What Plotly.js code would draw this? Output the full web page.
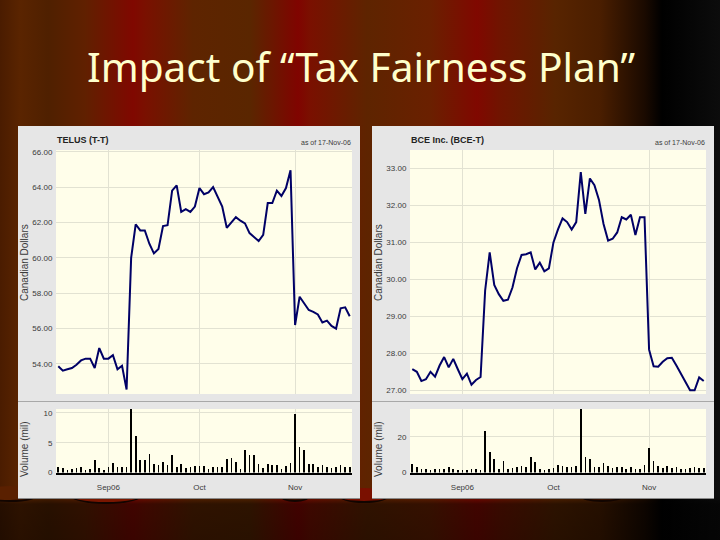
<!DOCTYPE html>
<html>
<head>
<meta charset="utf-8">
<script src="https://cdn.plot.ly/plotly-3.0.1.min.js"></script>
<style>
html,body{margin:0;padding:0;width:720px;height:540px;overflow:hidden;background:#000}
#bg{position:absolute;left:0;top:0;width:720px;height:540px;
background:
 linear-gradient(to bottom,rgba(0,0,0,0) 0,rgba(0,0,0,0) 496px,rgba(0,0,0,.5) 504px,rgba(0,0,0,.55) 540px),
 linear-gradient(to right,#4a1c00 0,#5a2400 20px,#4f2000 48px,#602000 85px,#800800 133px,#7a1000 145px,#5e2400 193px,#5a2600 250px,#800400 298px,#7a1000 310px,#5e2400 367px,#6a2000 430px,#800800 477px,#701400 500px,#582400 555px,#4a1e00 600px,#1a0a00 645px,#000 662px,#0c0c0c 720px)}
.arc{position:absolute;border-radius:50%;border-bottom:2px solid #120500}
.panel{position:absolute;top:126px;height:372px;width:342px;background:#e6e6e6;box-shadow:0 1px 0 #8a8a8a}
#chart{position:absolute;left:0;top:0;width:720px;height:540px}
</style>
</head>
<body>
<div id="bg"></div>
<div class="arc" style="left:-20px;top:486px;width:60px;height:14px;background:#5a2000"></div>
<div class="arc" style="left:68px;top:484px;width:76px;height:18px;background:#7a1600"></div>
<div class="arc" style="left:280px;top:490px;width:30px;height:10px;background:#3a1000"></div>
<div class="arc" style="left:338px;top:488px;width:52px;height:13px;background:#7a1000"></div>
<div class="arc" style="left:580px;top:490px;width:44px;height:10px;background:#3a1200"></div>
<div class="panel" style="left:18px"></div>
<div class="panel" style="left:372px"></div>
<div id="chart"></div>
<script>
const chartTitle = 'Impact of “Tax Fairness Plan”';
const telusName = 'TELUS (T-T)';
const bceName = 'BCE Inc. (BCE-T)';
const asOf = 'as of 17-Nov-06';
const priceTitle = 'Canadian Dollars';
const volumeTitle = 'Volume (mil)';
const days = Array.from({length:65},(_,i)=>i);
const monthTicks = [11,31,52];
const monthLabels = ['Sep06','Oct','Nov'];
const telusTicks = [54,56,58,60,62,64,66];
const bceTicks = [27,28,29,30,31,32,33];
const telusPrice = [53.87,53.62,53.7,53.77,53.95,54.2,54.3,54.3,53.77,54.9,54.3,54.3,54.5,53.7,53.9,52.55,
 60,61.9,61.55,61.55,60.8,60.25,60.5,61.8,61.85,63.8,64.1,62.6,62.75,62.6,62.9,63.95,63.6,63.7,64,63.4,62.9,61.7,62,62.3,62.1,61.95,61.4,61.2,60.95,61.3,63.1,63.1,63.8,63.5,63.95,64.95,
 56.2,57.8,57.4,57.05,56.95,56.8,56.35,56.45,56.15,56,57.15,57.2,56.7];
const bcePrice = [27.57,27.5,27.25,27.3,27.5,27.37,27.67,27.9,27.62,27.85,27.57,27.3,27.45,27.15,27.28,27.36,
 29.7,30.73,29.85,29.6,29.42,29.45,29.78,30.3,30.66,30.68,30.73,30.27,30.45,30.22,30.3,31,31.35,31.65,31.55,31.35,31.55,32.9,31.77,32.73,32.55,32.15,31.5,31.05,31.1,31.27,31.68,31.62,31.75,31.2,31.68,31.68,
 28.1,27.65,27.64,27.77,27.87,27.88,27.67,27.45,27.2,27,27,27.35,27.25];
const telusVolume = [.9,.75,.4,.6,.8,.9,.5,.6,2.1,.8,.5,.9,1.6,1,.9,.9,10.7,6.1,2.1,2.1,3.1,1.5,1.3,1.8,1.3,3,.9,1.5,.8,.9,1.1,1.1,1.1,.6,.9,1,1,2.3,2.4,1.8,.6,3.8,3,3,1.5,.8,1.5,1.3,1.3,.6,1.1,1.6,9.9,4.3,3.8,1.5,1.5,1,1.3,.9,.8,.9,1.3,.9,.9];
const bceVolume = [4.9,3,1.8,2.2,1.6,2,2.2,2,3,2,1.6,1.6,1.5,2.2,2,1.6,23.5,11.5,7.6,2.2,6.5,2.2,2.7,2.9,3.5,3.1,8.7,6,1.8,1.6,1.8,2.5,4.4,3.6,3.3,3.3,3.5,35.5,8.7,7.6,3.1,3.3,5.5,3.8,2.7,3,3.3,2.2,3.3,2.2,2.2,4.4,13.6,6.5,3.6,2.7,3.8,2.7,2.9,2,2.2,2.7,3.3,2.7,2.5];

const W=720,H=540;
const px=x=>x/W, py=y=>1-y/H;
const ink='#3a3a3a', grid='#e2e2d2', plotBg='#fffeea';
const sans='Liberation Sans, Arial, sans-serif';
const tf={family:sans,size:8,color:ink};

function xa(dom,anchor,labels){return {domain:[px(dom[0]),px(dom[1])],anchor,range:[-0.5,64.5],
  tickmode:'array',tickvals:monthTicks,ticktext:monthLabels,showticklabels:labels,
  ticks:labels?'outside':'',ticklen:6,tickcolor:'rgba(0,0,0,0)',
  showgrid:true,gridcolor:grid,gridwidth:1,zeroline:false,
  showline:labels,linecolor:'#000',linewidth:2,tickfont:tf};}
function ya(dom,anchor,range,vals,fmt){return {domain:[py(dom[1]),py(dom[0])],anchor,range,
  tickmode:'array',tickvals:vals,ticktext:vals.map(fmt),
  ticks:'outside',ticklen:1,tickcolor:'rgba(0,0,0,0)',
  showgrid:true,gridcolor:grid,gridwidth:1,zeroline:false,showline:false,tickfont:tf};}

const line=(y,xax,yax)=>({x:days,y,xaxis:xax,yaxis:yax,type:'scatter',mode:'lines',line:{color:'#000066',width:2},hoverinfo:'skip'});
const bars=(y,xax,yax)=>({x:days,y,xaxis:xax,yaxis:yax,type:'bar',width:0.36,marker:{color:'#000',line:{width:0}},hoverinfo:'skip'});

const sep=(x0,x1)=>({type:'line',xref:'paper',yref:'paper',layer:'below',x0:px(x0),x1:px(x1),y0:py(401.5),y1:py(401.5),line:{color:'#a8a8a8',width:1}});

const note=(text,x,y,o={})=>Object.assign({text,xref:'paper',yref:'paper',x:px(x),y:py(y),showarrow:false,xanchor:'left',yanchor:'middle',font:tf},o);
const rot={textangle:-90,xanchor:'center',yanchor:'middle',font:{family:sans,size:10,color:ink}};

const layout={width:W,height:H,margin:{l:0,r:0,t:0,b:0},autosize:false,showlegend:false,
 paper_bgcolor:'rgba(0,0,0,0)',plot_bgcolor:plotBg,bargap:0,
 title:{text:chartTitle,xref:'paper',yref:'paper',x:361/W,xanchor:'center',y:py(68),yanchor:'middle',
   font:{family:'Noto Sans, sans-serif',size:40.6,color:'#ffffcc'}},
 xaxis:xa([56,352],'y',false),
 yaxis:ya([150,394],'x',[52.3,66.1],telusTicks,v=>v.toFixed(2)),
 xaxis2:xa([56,352],'y2',true),
 yaxis2:ya([409,472.5],'x2',[0,10.67],[0,5,10],v=>String(v)),
 xaxis3:xa([410,706],'y3',false),
 yaxis3:ya([150,394],'x3',[26.9,33.5],bceTicks,v=>v.toFixed(2)),
 xaxis4:xa([410,706],'y4',true),
 yaxis4:ya([409,472.5],'x4',[0,35.7],[0,20],v=>String(v)),
 shapes:[sep(18,360),sep(372,714)],
 annotations:[
  note(telusName,54.5,140,{font:{family:sans,size:9,weight:700,color:'#222'}}),
  note(bceName,408.5,140,{font:{family:sans,size:9,weight:700,color:'#222'}}),
  note(asOf,353,142,{xanchor:'right',font:{family:sans,size:7,color:ink}}),
  note(asOf,707,142,{xanchor:'right',font:{family:sans,size:7,color:ink}}),
  note(priceTitle,24,263,rot), note(priceTitle,378,263,rot),
  note(volumeTitle,24,449,rot), note(volumeTitle,378,449,rot)
 ]};

Plotly.newPlot('chart',[
 line(telusPrice,'x','y'),bars(telusVolume,'x2','y2'),
 line(bcePrice,'x3','y3'),bars(bceVolume,'x4','y4')
],layout,{displayModeBar:false,staticPlot:true});
</script>
</body>
</html>
